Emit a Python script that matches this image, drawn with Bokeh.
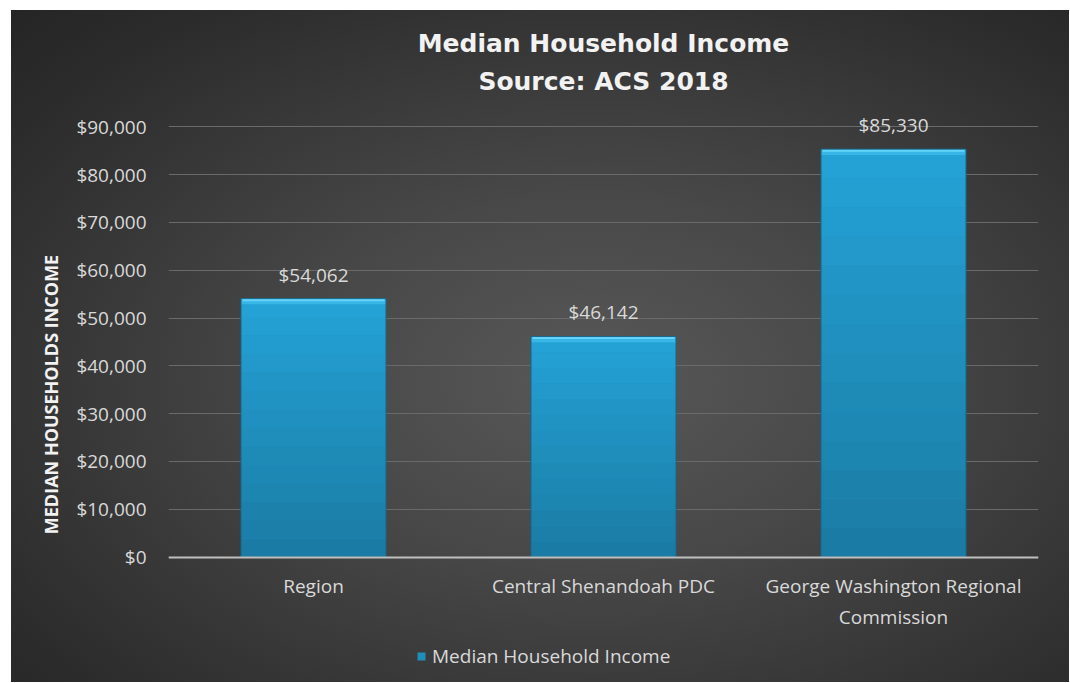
from bokeh.plotting import figure
from bokeh.models import (Range1d, FactorRange, SingleIntervalTicker, NumeralTickFormatter,
                          ColumnDataSource, LabelSet, Legend, LegendItem, Title)
from bokeh.core.properties import value
from bokeh.embed import file_html
from bokeh.resources import INLINE

# ---- data ----
categories = ["Region", "Central Shenandoah PDC", "George Washington Regional\nCommission"]
incomes = [54062, 46142, 85330]
series_name = "Median Household Income"
title_line1 = "Median Household Income"
title_line2 = "Source: ACS 2018"
y_axis_title = "MEDIAN HOUSEHOLDS INCOME"
y_max_tick = 90000

TEXT = "#d9d9d9"
FONT = "Open Sans"

# the frame extends below zero so the category labels and the legend sit inside it
p = figure(x_range=FactorRange(*categories, range_padding=0),
           y_range=Range1d(-25000, 93000),
           frame_width=870, frame_height=564,
           min_border_left=157, min_border_right=31, min_border_top=102, min_border_bottom=6,
           output_backend="svg", toolbar_location=None, title=None)

p.border_fill_color = None
p.background_fill_color = None
p.outline_line_color = None
p.styles = {
    "background": "radial-gradient(ellipse farthest-corner at 55% 55%, #585858 0%, #484848 35%, #2b2b2b 85%, #252525 100%)",
    "margin-left": "11px",
    "margin-top": "10px",
}

# bars: base + vertical shading bands
src = ColumnDataSource(dict(cat=categories, val=incomes,
                            lbl=[f"${v:,}" for v in incomes]))
base = p.vbar(x="cat", top="val", bottom=0, width=0.5, source=src,
              fill_color="#1e8ebd", line_color=None)

top_c = (0x24, 0xa3, 0xd7)
bot_c = (0x1a, 0x7b, 0xa3)
N = 14
for i in range(N):
    f0, f1 = i / N, (i + 1) / N
    t = (f0 + f1) / 2
    c = tuple(int(round(bot_c[k] + (top_c[k] - bot_c[k]) * t)) for k in range(3))
    col = "#%02x%02x%02x" % c
    p.vbar(x=categories, bottom=[v * f0 for v in incomes], top=[v * f1 for v in incomes],
           width=0.5, fill_color=col, line_color=None)

# top bevel
p.vbar(x=categories, bottom=[v - 1200 for v in incomes], top=incomes, width=0.5,
       fill_color="#38b6e5", line_color=None)
p.vbar(x=categories, bottom=[v - 550 for v in incomes], top=incomes, width=0.49,
       fill_color="#66d4f8", line_color=None)
# edge
p.vbar(x=categories, bottom=0, top=incomes, width=0.5, fill_color=None,
       line_color="#17678a", line_width=1)

# data labels
labels = LabelSet(x="cat", y="val", text="lbl", source=src, y_offset=11,
                  text_align="center", text_baseline="bottom",
                  text_color=TEXT, text_font=value(FONT), text_font_size="19px")
p.add_layout(labels)

# y axis
p.yaxis.ticker = SingleIntervalTicker(interval=10000)
p.yaxis.bounds = (0, y_max_tick)
p.yaxis.axis_line_color = None
p.yaxis.formatter = NumeralTickFormatter(format="$0,0")
p.yaxis.major_tick_line_color = None
p.yaxis.minor_tick_line_color = None
p.yaxis.major_label_text_color = TEXT
p.yaxis.major_label_text_font = FONT
p.yaxis.major_label_text_font_size = "19px"
p.yaxis.major_label_standoff = 16
p.yaxis.axis_label = y_axis_title
p.yaxis.axis_label_text_color = "#f2f2f2"
p.yaxis.axis_label_text_font = FONT
p.yaxis.axis_label_text_font_size = "18px"
p.yaxis.axis_label_text_font_style = "bold"
p.yaxis.axis_label_standoff = 10

# x axis drawn at y = 0
xa = p.xaxis[0]
xa.fixed_location = 0
xa.axis_line_color = "#bfbfbf"
xa.axis_line_width = 2
xa.major_tick_line_color = None
xa.minor_tick_line_color = None
xa.major_tick_out = 0
xa.major_label_text_color = TEXT
xa.major_label_text_font = FONT
xa.major_label_text_font_size = "19px"
xa.major_label_standoff = 16

p.xgrid.grid_line_color = None
p.ygrid.grid_line_color = "#6a6a6a"
p.ygrid.grid_line_width = 1
p.ygrid.bounds = (0, y_max_tick)

# titles
p.add_layout(Title(text=title_line2, align="center", text_color="#f2f2f2",
                   text_font="DejaVu Sans", text_font_size="25px", text_font_style="bold",
                   standoff=33), "above")
t1 = Title(text=title_line1, align="center", text_color="#f2f2f2",
           text_font="DejaVu Sans", text_font_size="25px", text_font_style="bold",
           standoff=0)
try:
    t1.standoff = -18
except Exception:
    t1.standoff = 0
p.add_layout(t1, "above")

# legend (inside the extended frame, under the category labels)
legend = Legend(items=[LegendItem(label=series_name, renderers=[base])],
                orientation="horizontal", location=(248, 7),
                background_fill_alpha=0, border_line_color=None,
                label_text_color=TEXT, label_text_font=FONT, label_text_font_size="19px",
                glyph_width=10, glyph_height=10, padding=0, margin=0, label_standoff=6)
p.add_layout(legend)

open("out.html", "w").write(file_html(p, INLINE))
